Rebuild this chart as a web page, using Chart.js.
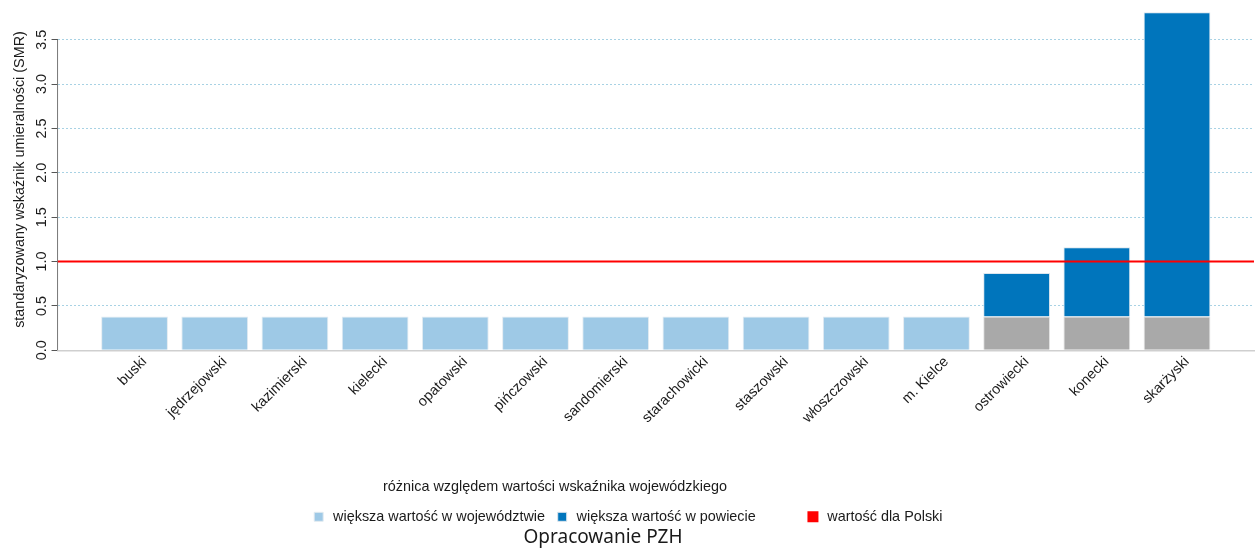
<!DOCTYPE html>
<html lang="pl">
<head>
<meta charset="UTF-8">
<title>SMR wg powiatów</title>
<script src="https://cdn.jsdelivr.net/npm/chart.js"></script>
<style>
  html, body { margin: 0; padding: 0; background: #fff; }
  #wrap { width: 1257px; height: 550px; position: relative; }
</style>
</head>
<body>
<div id="wrap"><canvas id="smrChart"></canvas></div>
<script>
const powiaty = ['buski', 'jędrzejowski', 'kazimierski', 'kielecki', 'opatowski', 'pińczowski',
  'sandomierski', 'starachowicki', 'staszowski', 'włoszczowski', 'm. Kielce',
  'ostrowiecki', 'konecki', 'skarżyski'];

// wartość wojewódzka (słupek jasny / szara podstawa)
const wiekszaWWojewodztwie = [0.38, 0.38, 0.38, 0.38, 0.38, 0.38, 0.38, 0.38, 0.38, 0.38, 0.38, null, null, null];
const podstawaWojewodzka = [null, null, null, null, null, null, null, null, null, null, null, 0.38, 0.38, 0.38];
// nadwyżka powiatu ponad wartość wojewódzką
const wiekszaWPowiecie = [null, null, null, null, null, null, null, null, null, null, null, 0.49, 0.78, 3.43];
const wartoscPolska = 1.0;

const yTickValues = [0, 0.5, 1, 1.5, 2, 2.5, 3, 3.5];
const xMin = 0.04, xMax = 14.96;

const FONT = "'Liberation Sans', Arial, sans-serif";
const FS = 14.4;
const TXT = '#1a1a1a';

const toPoints = arr => arr.map((v, i) => ({ x: i + 1, y: v }));

// podpis legendy i źródło - w R nie są wyśrodkowane, więc rysuję je sam
const opisy = {
  id: 'opisy',
  afterDraw(chart) {
    const c = chart.ctx;
    c.save();
    c.fillStyle = TXT;
    c.textAlign = 'center';
    c.textBaseline = 'middle';
    c.font = FS + 'px ' + FONT;
    c.fillText('różnica względem wartości wskaźnika wojewódzkiego', 555, 487);
    c.font = "19px 'Noto Sans', sans-serif";
    c.fillText('Opracowanie PZH', 603, 538);
    c.restore();
  }
};

const ctx = document.getElementById('smrChart').getContext('2d');
new Chart(ctx, {
  type: 'bar',
  data: {
    datasets: [
      {
        label: 'większa wartość w województwie',
        data: toPoints(wiekszaWWojewodztwie),
        backgroundColor: '#9ec9e6',
        borderColor: '#e3ebf1',
        borderWidth: 1,
        pointStyle: 'rect'
      },
      {
        label: 'podstawa',
        data: toPoints(podstawaWojewodzka),
        backgroundColor: '#a9a9a9',
        borderColor: '#e3e3e3',
        borderWidth: 1
      },
      {
        label: 'większa wartość w powiecie',
        data: toPoints(wiekszaWPowiecie),
        backgroundColor: '#0075bc',
        borderColor: '#dbe6ee',
        borderWidth: 1,
        pointStyle: 'rect'
      },
      {
        type: 'line',
        label: 'wartość dla Polski',
        data: [{ x: xMin, y: wartoscPolska }, { x: xMax, y: wartoscPolska }],
        borderColor: '#ff0000',
        backgroundColor: '#ff0000',
        borderWidth: 2,
        pointRadius: 0,
        pointStyle: 'rect',
        stack: 'pl',
        order: -1
      },
      {
        // oś Y tylko do ostatniej podziałki, jak w R
        type: 'line',
        label: 'oś',
        data: [{ x: xMin, y: yTickValues[0] }, { x: xMin, y: yTickValues[yTickValues.length - 1] }],
        borderColor: '#777',
        borderWidth: 1,
        pointRadius: 0,
        stack: 'os',
        clip: false
      }
    ]
  },
  options: {
    responsive: true,
    maintainAspectRatio: false,
    animation: false,
    barPercentage: 0.833,
    categoryPercentage: 1,
    layout: { padding: { top: 4, right: 3, left: 0, bottom: 16 } },
    scales: {
      x: {
        type: 'linear',
        offset: false,
        min: xMin,
        max: xMax,
        stacked: true,
        afterBuildTicks: s => { s.ticks = powiaty.map((_, i) => ({ value: i + 1 })); },
        afterFit: s => { s.height += 70; },
        grid: { display: false, drawTicks: false },
        border: { display: true, color: '#cfcfcf', width: 1.5 },
        ticks: {
          autoSkip: false,
          minRotation: 45,
          maxRotation: 45,
          padding: 3,
          labelOffset: 10,
          color: TXT,
          font: { family: FONT, size: FS },
          callback: v => powiaty[Math.round(v) - 1] || ''
        }
      },
      y: {
        stacked: true,
        min: 0,
        max: 3.85,
        z: 1,
        afterBuildTicks: s => { s.ticks = yTickValues.map(v => ({ value: v })); },
        grid: {
          color: c => (c.tick && (c.tick.value === 0 || c.tick.value === 1)) ? 'rgba(0,0,0,0)' : '#a8d2e4',
          tickColor: '#555',
          tickLength: 6,
          lineWidth: 1
        },
        border: { display: false, dash: [2, 2] },
        ticks: {
          minRotation: 90,
          maxRotation: 90,
          crossAlign: 'center',
          padding: 0,
          color: TXT,
          font: { family: FONT, size: FS },
          callback: v => v.toFixed(1)
        },
        title: {
          display: true,
          text: 'standaryzowany wskaźnik umieralności (SMR)',
          color: TXT,
          font: { family: FONT, size: FS },
          padding: { top: 11, bottom: 6 }
        }
      }
    },
    plugins: {
      tooltip: { enabled: false },
      legend: {
        position: 'bottom',
        labels: {
          usePointStyle: true,
          boxHeight: 9,
          padding: 10,
          color: TXT,
          font: { family: FONT, size: FS },
          // R daje kolumny równej szerokości - dosuwam trzecią pozycję spacjami
          generateLabels: chart => Chart.defaults.plugins.legend.labels.generateLabels(chart)
            .map(it => it.datasetIndex === 2 ? { ...it, text: it.text + ' '.repeat(10) } : it),
          filter: item => item.datasetIndex === 0 || item.datasetIndex === 2 || item.datasetIndex === 3,
          sort: (a, b) => a.datasetIndex - b.datasetIndex
        }
      }
    }
  },
  plugins: [opisy]
});
</script>
</body>
</html>
